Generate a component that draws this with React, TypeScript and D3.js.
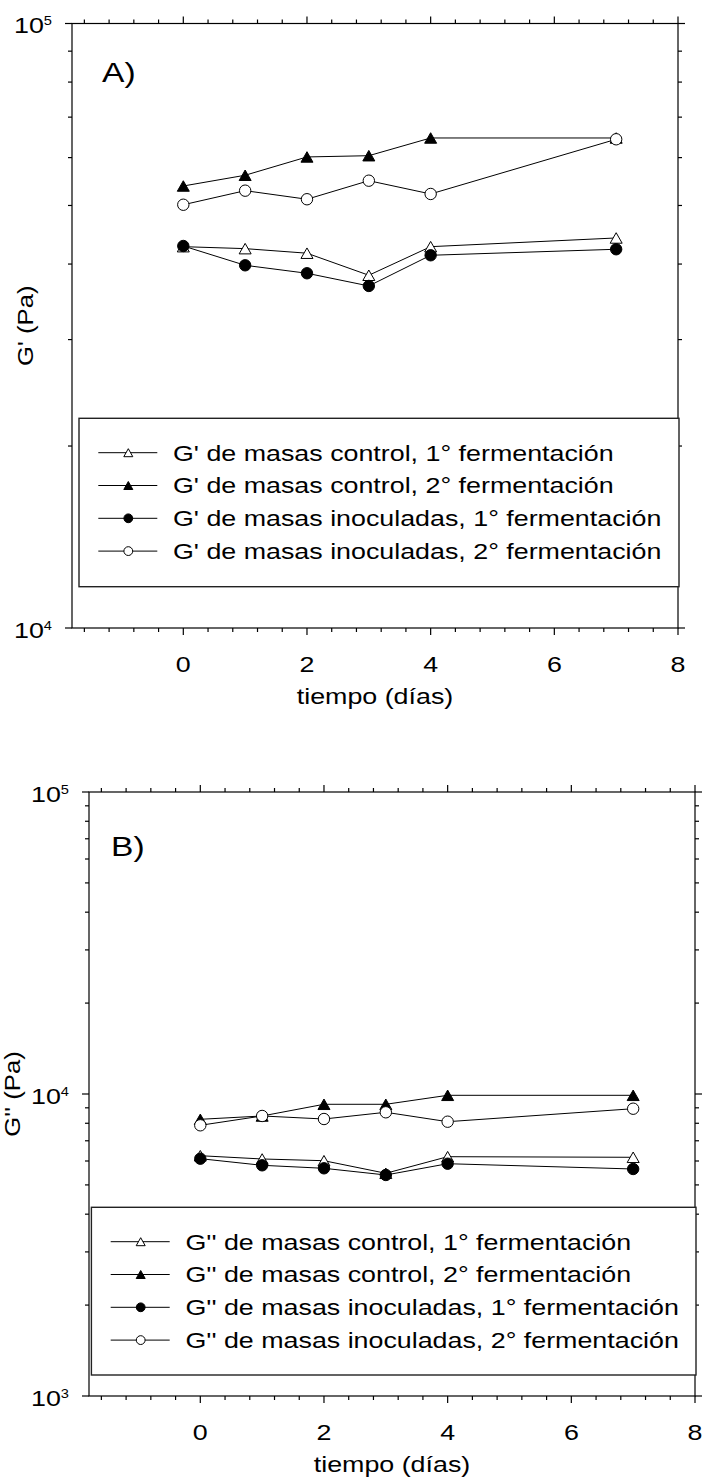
import React from "react";
import * as d3 from "d3";

const DAYS = [0, 1, 2, 3, 4, 7];

// Panel A: G' (Pa)
const GP_CONTROL_1 = [42740, 42420, 41690, 38330, 42740, 44180];
const GP_CONTROL_2 = [53850, 56100, 60150, 60440, 64660, 64660];
const GP_INOC_1 = [42850, 39810, 38620, 36800, 41360, 42320];
const GP_INOC_2 = [50140, 52900, 51200, 54950, 52240, 64340];

// Panel B: G'' (Pa)
const GPP_CONTROL_1 = [6247, 6093, 6013, 5463, 6200, 6172];
const GPP_CONTROL_2 = [8245, 8457, 9245, 9245, 9901, 9901];
const GPP_INOC_1 = [6107, 5806, 5675, 5393, 5877, 5645];
const GPP_INOC_2 = [7877, 8457, 8264, 8698, 8096, 8939];

const LEGEND_A = [
  "G' de masas control, 1° fermentación",
  "G' de masas control, 2° fermentación",
  "G' de masas inoculadas, 1° fermentación",
  "G' de masas inoculadas, 2° fermentación",
];
const LEGEND_B = [
  "G'' de masas control, 1° fermentación",
  "G'' de masas control, 2° fermentación",
  "G'' de masas inoculadas, 1° fermentación",
  "G'' de masas inoculadas, 2° fermentación",
];
const MARKERS = ["triOpen", "triFilled", "circFilled", "circOpen"];
const X_TICKS = [0, 2, 4, 6, 8];

const FONT = "'Liberation Sans', Arial, Helvetica, sans-serif";
const SX = 1.22;
const FS = 22;

function Marker({ kind, x, y, big }: { kind: string; x: number; y: number; big: boolean }) {
  const filled = kind === "triFilled" || kind === "circFilled";
  const fill = filled ? "#000" : "#fff";
  if (kind.startsWith("tri")) {
    const w = big ? 12 : 9;
    const h = big ? 10.5 : 8;
    const p = d3.path();
    p.moveTo(x, y - h / 2);
    p.lineTo(x + w / 2, y + h / 2);
    p.lineTo(x - w / 2, y + h / 2);
    p.closePath();
    return <path d={p.toString()} fill={fill} stroke="#000" strokeWidth={1} />;
  }
  const r = big ? 5.7 : 4.4;
  return <circle cx={x} cy={y} r={r} fill={fill} stroke="#000" strokeWidth={1} />;
}

function Txt({ x, y, children, anchor = "middle", size = FS, sx = SX, rotate = 0 }: any) {
  const tr = rotate
    ? `translate(${x},${y}) rotate(${rotate}) scale(${sx},1)`
    : `translate(${x},${y}) scale(${sx},1)`;
  return (
    <text transform={tr} textAnchor={anchor} fontSize={size} fontFamily={FONT} fill="#000">
      {children}
    </text>
  );
}

function Panel({ p }: { p: any }) {
  const x = d3.scaleLinear().domain([-1.8, 8]).range([p.left, p.right]);
  const y = d3.scaleLog().domain(p.yDomain).range([p.bottom, p.top]);
  const line = d3
    .line<number>()
    .x((_, i) => x(DAYS[i]))
    .y((v) => y(v));

  const minorX: number[] = [];
  for (let k = -4; k <= 20; k++) if (k % 5 !== 0) minorX.push(k * 0.4);
  const e0 = Math.log10(p.yDomain[0]);
  const e1 = Math.log10(p.yDomain[1]);
  const majorY: number[] = d3.range(e0, e1 + 1).map((e) => Math.pow(10, e));
  const minorY: number[] = [];
  for (let e = e0; e < e1; e++) for (let m = 2; m <= 9; m++) minorY.push(m * Math.pow(10, e));

  const ax = { stroke: "#000", strokeWidth: 1.2 };
  const MJ = 7;
  const MN = 4;

  return (
    <g>
      <rect x={p.left} y={p.top} width={p.right - p.left} height={p.bottom - p.top} fill="none" {...ax} />
      {X_TICKS.map((t) => (
        <g key={"xm" + t}>
          <line x1={x(t)} x2={x(t)} y1={p.bottom} y2={p.bottom + MJ} {...ax} />
          <line x1={x(t)} x2={x(t)} y1={p.top} y2={p.top - MJ} {...ax} />
        </g>
      ))}
      {minorX.map((t) => (
        <g key={"xn" + t}>
          <line x1={x(t)} x2={x(t)} y1={p.bottom} y2={p.bottom + MN} {...ax} />
          <line x1={x(t)} x2={x(t)} y1={p.top} y2={p.top - MN} {...ax} />
        </g>
      ))}
      {majorY.map((t) => (
        <g key={"ym" + t}>
          <line x1={p.left} x2={p.left - MJ} y1={y(t)} y2={y(t)} {...ax} />
          <line x1={p.right} x2={p.right + MJ} y1={y(t)} y2={y(t)} {...ax} />
        </g>
      ))}
      {minorY.map((t) => (
        <g key={"yn" + t}>
          <line x1={p.left} x2={p.left - MN} y1={y(t)} y2={y(t)} {...ax} />
          <line x1={p.right} x2={p.right + MN} y1={y(t)} y2={y(t)} {...ax} />
        </g>
      ))}
      {X_TICKS.map((t) => (
        <Txt key={"xl" + t} x={x(t)} y={p.bottom + 44}>
          {String(t)}
        </Txt>
      ))}
      {majorY.map((t) => (
        <text
          key={"yl" + t}
          transform={`translate(${p.left - 20},${y(t) + 9.5}) scale(${SX},1)`}
          textAnchor="end"
          fontSize={FS}
          fontFamily={FONT}
          fill="#000"
        >
          10
          <tspan dy={-8} fontSize={12}>
            {String(Math.round(Math.log10(t)))}
          </tspan>
        </text>
      ))}
      <Txt x={(p.left + p.right) / 2} y={p.bottom + 76}>
        tiempo (días)
      </Txt>
      <Txt x={p.yTitleX} y={(p.top + p.bottom) / 2} rotate={-90} sx={1.17}>
        {p.yTitle}
      </Txt>
      <Txt x={p.letterX} y={p.letterY} anchor="start" size={28} sx={1.2}>
        {p.letter}
      </Txt>
      {p.series.map((s: number[], i: number) => (
        <path key={"l" + i} d={line(s) || ""} fill="none" stroke="#000" strokeWidth={1} />
      ))}
      {p.series.map((s: number[], i: number) =>
        s.map((v, j) => <Marker key={"m" + i + "-" + j} kind={MARKERS[i]} x={x(DAYS[j])} y={y(v)} big={true} />)
      )}
      <rect
        x={p.legend.x0}
        y={p.legend.y0}
        width={p.legend.x1 - p.legend.x0}
        height={p.legend.y1 - p.legend.y0}
        fill="#fff"
        stroke="#222"
        strokeWidth={1.4}
      />
      {p.labels.map((lab: string, i: number) => {
        const cy = p.legend.y0 + 34.4 + i * 32.8;
        const lx = p.legend.x0 + 19.3;
        return (
          <g key={"lg" + i}>
            <line x1={lx} x2={lx + 59} y1={cy} y2={cy} stroke="#000" strokeWidth={1} />
            <Marker kind={MARKERS[i]} x={lx + 30} y={cy} big={false} />
            <Txt x={p.legend.x0 + 94} y={cy + 7.8} anchor="start">
              {lab}
            </Txt>
          </g>
        );
      })}
    </g>
  );
}

const PANELS = [
  {
    left: 72,
    right: 678,
    top: 23.5,
    bottom: 628,
    yDomain: [1e4, 1e5],
    yTitle: "G' (Pa)",
    yTitleX: 33,
    letter: "A)",
    letterX: 102,
    letterY: 82,
    series: [GP_CONTROL_1, GP_CONTROL_2, GP_INOC_1, GP_INOC_2],
    labels: LEGEND_A,
    legend: { x0: 79, x1: 679, y0: 418.3, y1: 586.7 },
  },
  {
    left: 89,
    right: 695,
    top: 792,
    bottom: 1396,
    yDomain: [1e3, 1e5],
    yTitle: "G'' (Pa)",
    yTitleX: 20,
    letter: "B)",
    letterX: 111,
    letterY: 856,
    series: [GPP_CONTROL_1, GPP_CONTROL_2, GPP_INOC_1, GPP_INOC_2],
    labels: LEGEND_B,
    legend: { x0: 91.4, x1: 696, y0: 1207.3, y1: 1375 },
  },
];

export default function App() {
  return (
    <svg
      width={706}
      height={1481}
      viewBox="0 0 706 1481"
      style={{ position: "absolute", left: 0, top: 0, background: "#fff" }}
    >
      <rect x={0} y={0} width={706} height={1481} fill="#fff" />
      {PANELS.map((p, i) => (
        <Panel key={i} p={p} />
      ))}
    </svg>
  );
}
